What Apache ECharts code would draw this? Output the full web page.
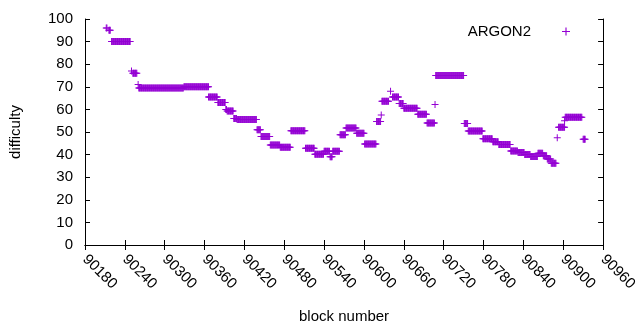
<!DOCTYPE html>
<html>
<head>
<meta charset="utf-8">
<script src="https://cdn.jsdelivr.net/npm/echarts@6/dist/echarts.min.js"></script>
<style>
  html, body { margin: 0; padding: 0; background: #fff; }
  #mychart { width: 640px; height: 330px; }
</style>
</head>
<body>
<div id="mychart"></div>
<script>
// difficulty stays constant over runs of blocks: first block, last block, value
const runFrom = [90212, 90216, 90220, 90250, 90252, 90260, 90261, 90329, 90366, 90380,
  90392, 90394, 90404, 90409, 90439, 90445, 90459, 90474, 90490, 90512,
  90526, 90540, 90549, 90553, 90564, 90573, 90589, 90601, 90619, 90626,
  90627, 90640, 90643, 90653, 90660, 90681, 90695, 90707, 90708, 90751,
  90757, 90779, 90794, 90803, 90821, 90832, 90842, 90851, 90862, 90870,
  90876, 90882, 90891, 90893, 90902, 90903, 90930];
const runTo = [90213, 90218, 90248, 90250, 90258, 90260, 90328, 90366, 90379, 90391,
  90393, 90403, 90408, 90438, 90444, 90458, 90473, 90489, 90511, 90525,
  90539, 90548, 90552, 90563, 90572, 90588, 90600, 90618, 90625, 90626,
  90637, 90640, 90652, 90659, 90680, 90694, 90706, 90707, 90750, 90756,
  90778, 90793, 90802, 90820, 90831, 90841, 90850, 90861, 90869, 90875,
  90881, 90889, 90891, 90902, 90902, 90928, 90933];
const runDifficulty = [96, 95, 90, 77, 76, 71, 69.5, 70, 65.5, 63,
  60, 59.3, 56, 55.5, 51, 48, 44.2, 43.3, 50.5, 42.8,
  40.1, 41.5, 39, 41.5, 48.8, 51.8, 49.4, 44.7, 54.6, 57.5,
  63.6, 68, 65.5, 62.6, 60.5, 57.8, 54, 62.2, 75, 53.8,
  50.4, 47, 45.7, 44.5, 41.6, 40.9, 40, 39.2, 40.6, 39.5,
  38, 36.2, 47.5, 52.1, 55, 56.5, 46.8];

const xTicks = { min: 90180, max: 90960, step: 60 };
const yTicks = { min: 0, max: 100, step: 10 };

// one point per block
let points = [];
for (let i = 0; i < runFrom.length; i++) {
  for (let b = runFrom[i]; b <= runTo[i]; b++) {
    points.push([b, runDifficulty[i]]);
  }
}

const plus = "path://M0,3L7,3L7,4L0,4Z M3,0L4,0L4,7L3,7Z";
const font = "Liberation Sans";

let mychart = echarts.init(document.getElementById("mychart"));
let options = {
  animation: false,
  textStyle: { fontFamily: font },
  grid: { left: 85, right: 31, top: 19, bottom: 85 },
  legend: {
    data: [{ name: "ARGON2", icon: plus }],
    right: 65,
    top: 19,
    align: "right",
    itemWidth: 60,
    itemHeight: 8,
    textStyle: { fontFamily: font, fontSize: 15, color: "#000" },
  },
  xAxis: [
    {
      type: "value",
      min: xTicks.min,
      max: xTicks.max,
      interval: xTicks.step,
      name: "block number",
      nameLocation: "middle",
      nameGap: 64,
      nameTextStyle: { fontFamily: font, fontSize: 15, color: "#000" },
      axisLine: { show: true, lineStyle: { color: "#000", width: 1 } },
      axisTick: { show: true, inside: true, length: 5, lineStyle: { color: "#000" } },
      axisLabel: {
        rotate: -45,
        margin: 12,
        fontFamily: font,
        fontSize: 15,
        color: "#000",
        showMinLabel: true,
        showMaxLabel: true,
        formatter: function (v) { return String(v); },
      },
      splitLine: { show: false },
    },
    {
      type: "value",
      position: "top",
      min: xTicks.min,
      max: xTicks.max,
      interval: xTicks.step,
      axisLine: { show: true, lineStyle: { color: "#000", width: 1 } },
      axisTick: { show: true, inside: true, length: 5, lineStyle: { color: "#000" } },
      axisLabel: { show: false },
      splitLine: { show: false },
    },
  ],
  yAxis: [
    {
      type: "value",
      min: yTicks.min,
      max: yTicks.max,
      interval: yTicks.step,
      name: "difficulty",
      nameLocation: "middle",
      nameRotate: 90,
      nameGap: 62,
      nameTextStyle: { fontFamily: font, fontSize: 15, color: "#000" },
      axisLine: { show: true, lineStyle: { color: "#000", width: 1 } },
      axisTick: { show: true, inside: true, length: 5, lineStyle: { color: "#000" } },
      axisLabel: { margin: 12, fontFamily: font, fontSize: 15, color: "#000" },
      splitLine: { show: false },
    },
    {
      type: "value",
      position: "right",
      min: yTicks.min,
      max: yTicks.max,
      interval: yTicks.step,
      axisLine: { show: true, lineStyle: { color: "#000", width: 1 } },
      axisTick: { show: true, inside: true, length: 5, lineStyle: { color: "#000" } },
      axisLabel: { show: false },
      splitLine: { show: false },
    },
  ],
  series: [
    {
      name: "ARGON2",
      type: "scatter",
      xAxisIndex: 0,
      yAxisIndex: 0,
      symbol: plus,
      symbolSize: 7,
      itemStyle: { color: "#9400d3", opacity: 1 },
      data: points,
    },
  ],
};
mychart.setOption(options);
</script>
</body>
</html>
